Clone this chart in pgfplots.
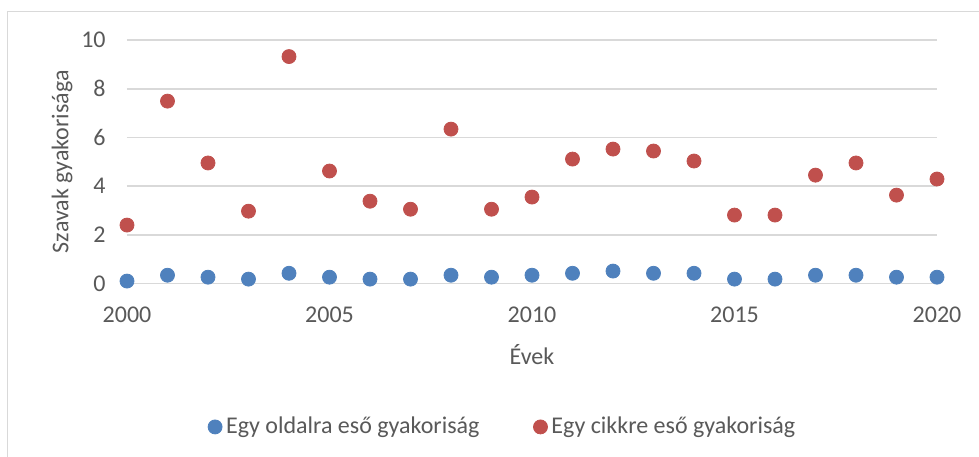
\documentclass[border=0pt]{standalone}
\usepackage{pgfplots}
\pgfplotsset{compat=1.18}
\usepackage{fontspec}
\setmainfont{Carlito}
\definecolor{txt}{HTML}{595959}
\definecolor{grd}{HTML}{D9D9D9}
\definecolor{blu}{HTML}{4F81BD}
\definecolor{rd}{HTML}{C0504D}
\begin{document}
\begin{tikzpicture}
\useasboundingbox (-63.5pt,-86.25pt) rectangle (426pt,141.75pt);
\fill[white] (-63.5pt,-86.25pt) rectangle (426pt,141.75pt);
\draw[grd, line width=0.8pt] (-59.75pt,-90pt) -- (-59.75pt,136pt) -- (430pt,136pt);
\begin{axis}[
  scale only axis, width=405pt, height=121.75pt,
  xmin=2000, xmax=2020, ymin=0, ymax=10,
  clip=false,
  xtick={2000,2005,2010,2015,2020},
  ytick={0,2,4,6,8,10},
  ymajorgrids, grid style={grd, line width=0.8pt},
  axis line style={draw=none},
  major tick length=0pt,
  /pgf/number format/1000 sep={},
  /pgf/number format/assume math mode=true,
  tick label style={font=\fontsize{12}{14}\selectfont, text=txt},
  yticklabel style={inner sep=0pt, anchor=east, xshift=-10.5pt},
  xticklabel style={inner sep=0pt, anchor=north, yshift=-11.5pt},
  label style={font=\fontsize{12}{14}\selectfont, text=txt},
  xlabel={Évek},
  xlabel style={at={(axis description cs:0.5,-0.2936)}, anchor=center},
  ylabel={Szavak gyakorisága},
  ylabel style={at={(axis description cs:-0.0802,0.5)}, anchor=center},
  legend columns=2,
  legend style={draw=none, fill=none, at={(axis description cs:0.465,-0.589)}, anchor=center,
    font=\fontsize{12}{14}\selectfont, text=txt,
    /tikz/every even column/.append style={column sep=25pt}},
  legend cell align=left,
]
\addplot[only marks, mark=*, mark size=3.5pt, mark options={draw=blu, fill=blu}] coordinates {
(2000,0.10) (2001,0.34) (2002,0.26) (2003,0.18) (2004,0.42) (2005,0.26) (2006,0.18)
(2007,0.18) (2008,0.34) (2009,0.26) (2010,0.34) (2011,0.42) (2012,0.51) (2013,0.42)
(2014,0.42) (2015,0.18) (2016,0.18) (2017,0.34) (2018,0.34) (2019,0.26) (2020,0.26)
};
\addlegendentry{Egy oldalra eső gyakoriság}
\addplot[only marks, mark=*, mark size=3.5pt, mark options={draw=rd, fill=rd}] coordinates {
(2000,2.40) (2001,7.49) (2002,4.95) (2003,2.97) (2004,9.32) (2005,4.62) (2006,3.38)
(2007,3.05) (2008,6.34) (2009,3.05) (2010,3.55) (2011,5.11) (2012,5.52) (2013,5.44)
(2014,5.03) (2015,2.81) (2016,2.81) (2017,4.45) (2018,4.95) (2019,3.63) (2020,4.29)
};
\addlegendentry{Egy cikkre eső gyakoriság}
\end{axis}
\end{tikzpicture}
\end{document}
